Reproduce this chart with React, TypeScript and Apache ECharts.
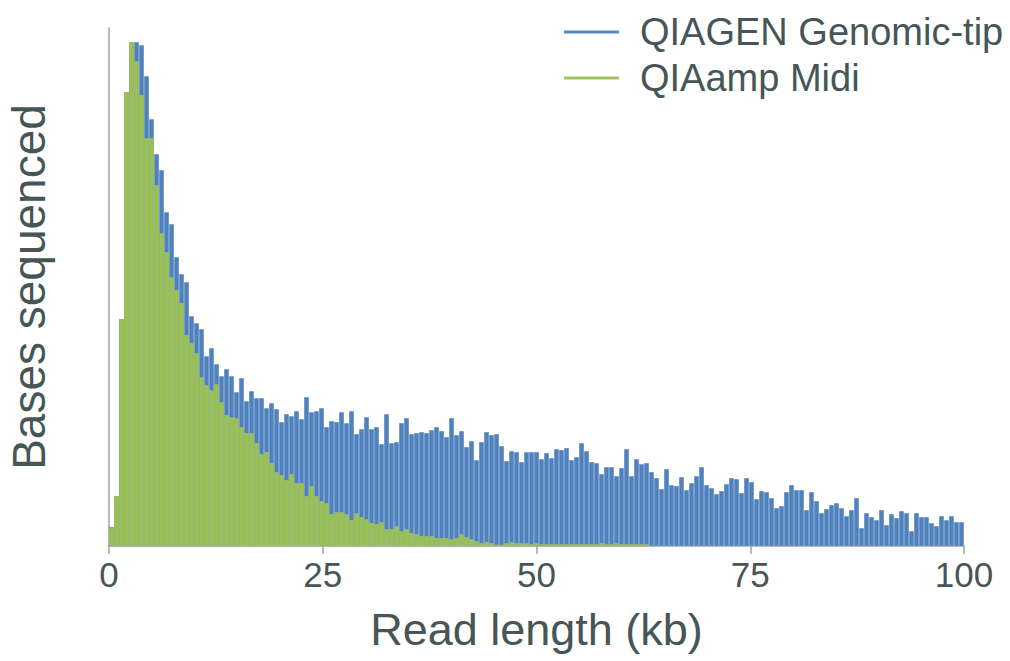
import React, { useEffect, useRef } from "react";
import * as echarts from "echarts";

// Histogram of bases sequenced by read length (arbitrary units, no y ticks)
const binCount = 171; // bins spanning 0–100 kb
const xMin = 0;
const xMax = 100;
const xStep = 25;

const seriesNames = ["QIAGEN Genomic-tip", "QIAamp Midi"];

const genomicTip = [
  19, 50, 227, 454, 504, 504, 501, 470, 427, 392,
  376, 334, 322, 289, 272, 264, 230, 223, 217, 190,
  198, 182, 170, 177, 170, 154, 168, 145, 155, 148,
  148, 138, 143, 137, 124, 132, 130, 135, 127, 149,
  134, 135, 138, 119, 125, 124, 134, 123, 135, 112,
  117, 129, 117, 119, 102, 132, 103, 104, 123, 128,
  112, 113, 114, 113, 116, 119, 115, 109, 128, 111,
  115, 99, 105, 86, 104, 114, 111, 112, 100, 85,
  95, 94, 84, 94, 94, 94, 87, 93, 88, 97,
  96, 98, 86, 89, 103, 95, 84, 83, 72, 79,
  79, 70, 78, 97, 70, 87, 82, 83, 74, 68,
  57, 77, 61, 60, 69, 56, 63, 70, 79, 61,
  58, 52, 55, 62, 68, 67, 53, 68, 64, 47,
  55, 54, 48, 38, 40, 54, 61, 56, 56, 36,
  54, 45, 33, 37, 41, 43, 38, 30, 36, 48,
  18, 33, 29, 26, 36, 21, 32, 28, 35, 33,
  15, 33, 29, 29, 23, 20, 30, 26, 30, 24,
  24,
];

const qiaampMidi = [
  18, 50, 227, 454, 504, 485, 451, 408, 408, 361,
  313, 294, 269, 256, 243, 211, 203, 193, 169, 161,
  156, 162, 144, 131, 129, 128, 119, 113, 113, 103,
  92, 94, 83, 74, 71, 66, 72, 63, 63, 50,
  60, 50, 45, 43, 32, 34, 34, 32, 26, 33,
  29, 27, 23, 22, 24, 17, 17, 20, 15, 17,
  13, 12, 10, 10, 10, 8, 8, 8, 7, 8,
  12, 9, 7, 5, 3, 4, 3, 1.5, 1.5, 3,
  4, 3, 3, 3, 2, 3, 2, 2, 2, 2,
  2, 2, 2, 2, 2, 2, 2, 2, 3, 2,
  2, 3, 2, 2, 2, 2, 2, 2,
];

const yMax = 518;

const textColor = "#465656";
const axisColor = "#a0a0a0";
const blue = "#4f81bd";
const green = "#9bc153";
const font = "'Liberation Sans', Arial, sans-serif";

const binWidth = (xMax - xMin) / binCount;
const toPoints = (vals: number[]) =>
  vals.map((v, i) => [xMin + (i + 0.5) * binWidth, v]);

export default function App() {
  const ref = useRef<HTMLDivElement>(null);

  useEffect(() => {
    if (!ref.current) return;
    const chart = echarts.init(ref.current, null, { renderer: "svg" });
    const barStyle = (color: string) => ({
      color,
      borderColor: "rgba(255,255,255,0.1)",
      borderWidth: 0.4,
    });
    chart.setOption({
      animation: false,
      textStyle: { fontFamily: font },
      grid: {
        left: 109,
        right: 46,
        top: 28,
        bottom: 115,
        containLabel: false,
        outerBoundsMode: "none",
      },
      legend: {
        orient: "vertical",
        left: 558,
        top: 8,
        itemGap: 8,
        icon: "rect",
        itemWidth: 55,
        itemHeight: 3,
        textStyle: {
          fontSize: 38,
          color: textColor,
          fontFamily: font,
          padding: [0, 0, 0, 16],
        },
        data: seriesNames,
      },
      xAxis: {
        type: "value",
        min: xMin,
        max: xMax,
        interval: xStep,
        name: "Read length (kb)",
        nameLocation: "middle",
        nameGap: 61,
        nameTextStyle: { fontSize: 45, color: textColor, fontFamily: font },
        axisLine: { show: true, lineStyle: { color: axisColor, width: 1.5 } },
        axisTick: { show: true, length: 8, lineStyle: { color: axisColor, width: 1.5 } },
        axisLabel: { fontSize: 35, color: textColor, margin: 11, fontFamily: font },
        splitLine: { show: false },
      },
      yAxis: {
        type: "value",
        min: 0,
        max: yMax,
        name: "Bases sequenced",
        nameLocation: "middle",
        nameRotate: 90,
        nameGap: 57,
        nameTextStyle: { fontSize: 46, color: textColor, fontFamily: font },
        axisLine: { show: true, lineStyle: { color: axisColor, width: 1.5 } },
        axisTick: { show: false },
        axisLabel: { show: false },
        splitLine: { show: false },
      },
      series: [
        {
          name: seriesNames[0],
          type: "bar",
          data: toPoints(genomicTip),
          barWidth: 5,
          barGap: "-100%",
          itemStyle: barStyle(blue),
        },
        {
          name: seriesNames[1],
          type: "bar",
          data: toPoints(qiaampMidi),
          barWidth: 5,
          barGap: "-100%",
          itemStyle: barStyle(green),
        },
      ],
    });
    return () => chart.dispose();
  }, []);

  return (
    <div
      ref={ref}
      style={{ position: "fixed", left: 0, top: 0, width: 1010, height: 661, background: "#fff" }}
    />
  );
}
